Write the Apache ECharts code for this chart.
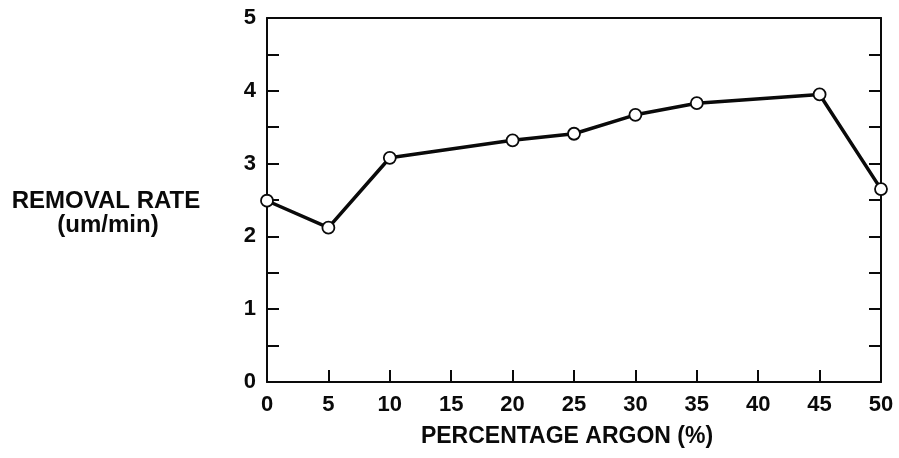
<!DOCTYPE html>
<html>
<head>
<meta charset="utf-8">
<script src="https://cdn.jsdelivr.net/npm/echarts@6/dist/echarts.min.js"></script>
<style>
html,body{margin:0;padding:0;background:#fff;}
#chart{width:899px;height:458px;}
</style>
</head>
<body>
<div id="chart"></div>
<script>
var argonPct = [0, 5, 10, 20, 25, 30, 35, 45, 50];
var removalRate = [2.49, 2.12, 3.08, 3.32, 3.41, 3.67, 3.83, 3.95, 2.65];
var xTitle = 'PERCENTAGE ARGON (%)';
var yTitleLines = ['REMOVAL RATE', '(um/min)'];

var FONT = '"Liberation Sans", Arial, Helvetica, sans-serif';
var INK = '#0a0a0a';

var chart = echarts.init(document.getElementById('chart'), null, {renderer: 'canvas'});

function yAxisDef(pos, showLabels) {
  return {
    type: 'value', min: 0, max: 5, interval: 0.5, position: pos,
    splitLine: {show: false},
    axisLine: {show: true, onZero: false, lineStyle: {color: INK, width: 2}},
    axisTick: {show: true, inside: true, length: 12, lineStyle: {color: INK, width: 2}},
    axisLabel: showLabels ? {
      color: INK, fontFamily: FONT, fontSize: 22, fontWeight: 'bold', margin: 11,
      formatter: function (v) { return Math.abs(v - Math.round(v)) < 1e-9 ? String(Math.round(v)) : ''; }
    } : {show: false}
  };
}

var option = {
  animation: false,
  backgroundColor: '#fff',
  grid: {left: 267, right: 18, top: 18, bottom: 76, containLabel: false},
  xAxis: [
    {
      type: 'value', min: 0, max: 50, interval: 5, position: 'bottom',
      splitLine: {show: false},
      axisLine: {show: true, onZero: false, lineStyle: {color: INK, width: 2}},
      axisTick: {show: true, inside: true, length: 12, lineStyle: {color: INK, width: 2}},
      axisLabel: {color: INK, fontFamily: FONT, fontSize: 22, fontWeight: 'bold', margin: 12}
    },
    {
      type: 'value', min: 0, max: 50, interval: 5, position: 'top',
      splitLine: {show: false},
      axisLine: {show: true, onZero: false, lineStyle: {color: INK, width: 2}},
      axisTick: {show: false},
      axisLabel: {show: false}
    }
  ],
  yAxis: [yAxisDef('left', true), yAxisDef('right', false)],
  series: [{
    type: 'line',
    xAxisIndex: 0, yAxisIndex: 0,
    data: argonPct.map(function (x, i) { return [x, removalRate[i]]; }),
    lineStyle: {color: INK, width: 3.5},
    symbol: 'circle',
    symbolSize: 12,
    itemStyle: {color: '#fff', borderColor: INK, borderWidth: 1.8},
    z: 5
  }],
  graphic: [
    {
      type: 'text', x: 106, y: 201,
      style: {text: yTitleLines[0], font: 'bold 24px ' + FONT, fill: INK, textAlign: 'center', textVerticalAlign: 'middle'}
    },
    {
      type: 'text', x: 108, y: 225,
      style: {text: yTitleLines[1], font: 'bold 24px ' + FONT, fill: INK, textAlign: 'center', textVerticalAlign: 'middle'}
    },
    {
      type: 'text', x: 567, y: 437,
      style: {text: xTitle, font: 'bold 23px ' + FONT, fill: INK, textAlign: 'center', textVerticalAlign: 'middle'}
    }
  ]
};
chart.setOption(option);
</script>
</body>
</html>
